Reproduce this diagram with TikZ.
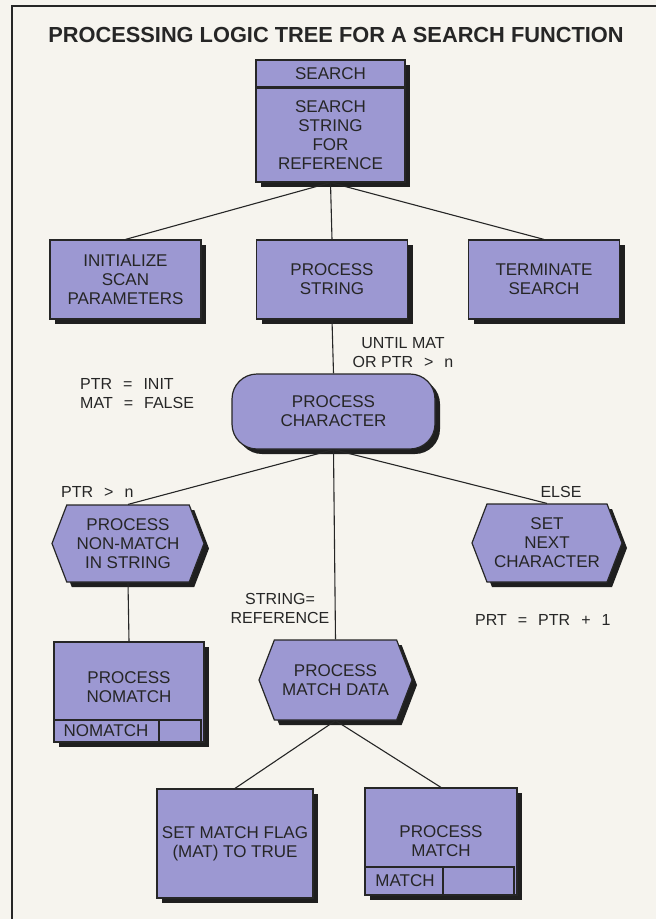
\documentclass[tikz,border=0pt]{standalone}
\usepackage{fontspec}
\setmainfont{Liberation Sans}
\usetikzlibrary{shapes.symbols,shadows}
\definecolor{treeLilac}{HTML}{9C98D2}
\definecolor{treeInk}{HTML}{262626}
\definecolor{treePaper}{HTML}{F6F4EE}
\newcommand{\wgap}{\hspace{11pt}}
\tikzset{
    tbox/.style={draw=treeInk, line width=1.2pt, fill=treeLilac, align=center, inner sep=0pt, text=treeInk, font=\fontsize{17}{19}\selectfont, drop shadow={shadow xshift=5pt, shadow yshift=-5pt, fill=black!88, opacity=1}},
    tchar/.style={tbox, rounded corners=25pt, minimum width=203pt, minimum height=75pt},
    thex/.style={tbox, shape=signal, signal to=east and west, signal pointer angle=138},
    tlabel/.style={text=treeInk, inner sep=0pt, font=\fontsize{16}{19}\selectfont},
    tline/.style={draw=treeInk, line width=1.1pt}
}
\begin{document}
\begin{tikzpicture}[x=1pt, y=-1pt]
            \fill[treePaper] (0,0) rectangle (656,919);
            \useasboundingbox (0,0) rectangle (656,919);
            \draw[treeInk, line width=2.4pt] (656,6) -- (12,6) -- (12,919);
            \node[text=treeInk, font=\bfseries\fontsize{21.8}{24}\selectfont] (title) at (336,35) {PROCESSING LOGIC TREE FOR A SEARCH FUNCTION};
            % top of the tree
            \node[tbox, minimum width=149pt, minimum height=28pt] (searchhd) at (330.5,74) {SEARCH};
            \node[tbox, minimum width=149pt, minimum height=94pt] (search) at (330.5,135) {SEARCH\\STRING\\FOR\\REFERENCE};
            \draw[treeInk, line width=2.6pt] (search.north west) -- (search.north east);
            \foreach \n/\x/\t in {init/125.5/{INITIALIZE\\SCAN\\PARAMETERS}, proc/332/{PROCESS\\STRING}, term/544/{TERMINATE\\SEARCH}}{
                \node[tbox, minimum width=151pt, minimum height=79pt] (\n) at (\x,279.5) {\t};
            }
            \node[tchar] (char) at (333.5,411.5) {PROCESS\\CHARACTER};
            % branches under the character loop
            \node[thex, minimum width=152pt, minimum height=77pt] (nonmatch) at (128,543.5) {PROCESS\\NON-MATCH\\IN STRING};
            \node[thex, minimum width=150pt, minimum height=78pt] (nextchar) at (547,543) {SET\\NEXT\\CHARACTER};
            \node[thex, minimum width=153pt, minimum height=80pt] (matchdata) at (335.5,680) {PROCESS\\MATCH DATA};
            \node[tbox, minimum width=150pt, minimum height=100pt] (nomatch) at (129,692) {};
            \node[tlabel, font=\fontsize{17}{19}\selectfont, align=center] (nomatchtxt) at (129,687) {PROCESS\\NOMATCH};
            \draw[treeInk, line width=1.2pt] (54,720) rectangle (201,742) (159,720) -- (159,742);
            \node[tlabel, font=\fontsize{17}{19}\selectfont] (nomatchtag) at (106,731) {NOMATCH};
            \node[tbox, minimum width=156pt, minimum height=109pt] (setflag) at (235,843.5) {SET MATCH FLAG\\(MAT) TO TRUE};
            \node[tbox, minimum width=152pt, minimum height=107pt] (procmatch) at (441,841.5) {};
            \node[tlabel, font=\fontsize{17}{19}\selectfont, align=center] (procmatchtxt) at (441,841.5) {PROCESS\\MATCH};
            \draw[treeInk, line width=1.2pt] (365,867) rectangle (514,895) (443,867) -- (443,895);
            \node[tlabel, font=\fontsize{17}{19}\selectfont] (matchtag) at (405,881) {MATCH};
            % connectors
            \foreach \b in {init,proc,term}{
                \draw[tline] (search.south) -- (\b.north);
            }
            \draw[tline] (proc.south) -- (char.north);
            \foreach \b in {nonmatch,matchdata,nextchar}{
                \draw[tline] (char.south) -- (\b.north);
            }
            \draw[tline] (nonmatch.south) -- (nomatch.north);
            \draw[tline] (matchdata.south) -- (setflag.north);
            \draw[tline] (matchdata.south) -- (procmatch.north);
            % conditions
            \node[tlabel, align=center] (until) at (403,353) {UNTIL MAT\\OR PTR\wgap>\wgap n};
            \node[tlabel, align=left, anchor=west] (ptrinit) at (80,394) {PTR\wgap=\wgap INIT\\MAT\wgap=\wgap FALSE};
            \node[tlabel, anchor=west] (ptrgt) at (61,492) {PTR\wgap>\wgap n};
            \node[tlabel] (else) at (561,492) {ELSE};
            \node[tlabel, align=center] (strref) at (280,608.5) {STRING=\\REFERENCE};
            \node[tlabel, anchor=west] (prt) at (475,620) {PRT\wgap=\wgap PTR\wgap+\wgap 1};
        \end{tikzpicture}
\end{document}
